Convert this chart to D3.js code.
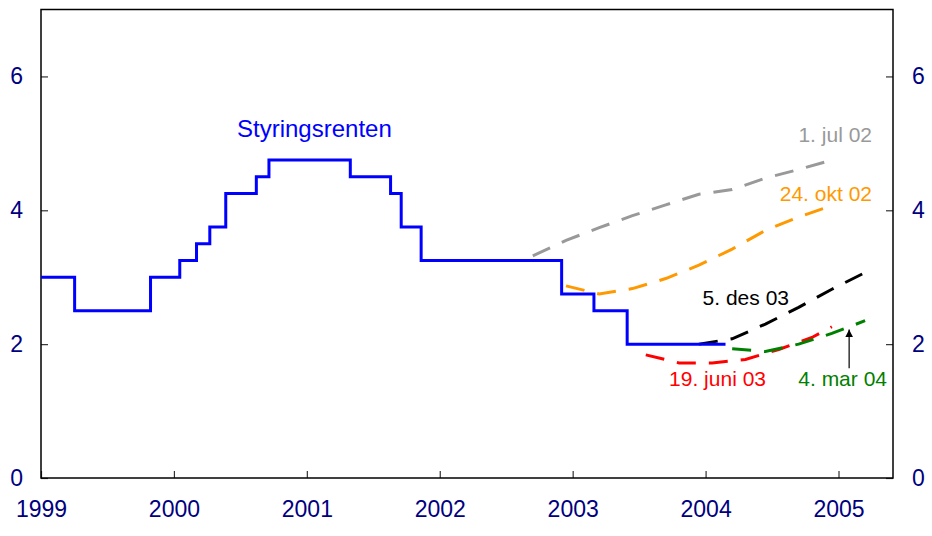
<!DOCTYPE html>
<meta charset="utf-8">
<style>
  body { margin: 0; background: #fff; }
  text { font-family: "Liberation Sans", Arial, sans-serif; }
</style>
<svg width="932" height="536"></svg>
<script src="https://cdn.jsdelivr.net/npm/d3@7"></script>
<script>

// policy rate (step series)
var policyDates = [1999.0, 1999.253, 1999.824, 2000.044, 2000.17, 2000.27, 2000.39, 2000.62, 2000.715,
                   2001.327, 2001.63, 2001.71, 2001.86, 2002.917, 2003.16, 2003.41, 2004.15]
var policyRates = [3.0, 2.5, 3.0, 3.25, 3.5, 3.75, 4.25, 4.5, 4.75,
                   4.5, 4.25, 3.75, 3.25, 2.75, 2.5, 2.0, 2.0]

// forecast paths
var jul02Dates = [2002.70, 2002.95, 2003.2, 2003.45, 2003.7, 2003.95, 2004.2, 2004.45, 2004.7, 2004.95]
var jul02Values = [3.32, 3.55, 3.74, 3.92, 4.08, 4.24, 4.31, 4.48, 4.61, 4.75]

var okt02Dates = [2002.95, 2003.2, 2003.45, 2003.7, 2003.95, 2004.2, 2004.45, 2004.7, 2004.95]
var okt02Values = [2.87, 2.75, 2.83, 2.98, 3.18, 3.42, 3.70, 3.90, 4.07]

var jun03Dates = [2003.55, 2003.8, 2004.05, 2004.3, 2004.55, 2004.8, 2004.95]
var jun03Values = [1.84, 1.72, 1.72, 1.77, 1.92, 2.10, 2.26]

var des03Dates = [2003.95, 2004.2, 2004.45, 2004.7, 2004.95, 2005.2]
var des03Values = [2.0, 2.08, 2.30, 2.55, 2.82, 3.07]

var mar04Dates = [2004.2, 2004.45, 2004.7, 2004.95, 2005.2]
var mar04Values = [1.93, 1.89, 2.0, 2.16, 2.35]

var yearTicks = [1999, 2000, 2001, 2002, 2003, 2004, 2005]
var rateTicks = [0, 2, 4, 6]

// plot box (don't use "top" as a global name, it's window.top)
var plotLeft = 41, plotRight = 893, plotTop = 9.5, plotBottom = 478

var svg = d3.select('svg')

var x = d3.scaleLinear().domain([1999, 2005.41]).range([plotLeft, plotRight])
var y = d3.scaleLinear().domain([0, 7]).range([plotBottom, plotTop])

function zip(dates, values) {
  return dates.map(function (d, i) { return [d, values[i]] })
}

var line = d3.line()
  .x(function (d) { return x(d[0]) })
  .y(function (d) { return y(d[1]) })

var stepLine = d3.line()
  .x(function (d) { return x(d[0]) })
  .y(function (d) { return y(d[1]) })
  .curve(d3.curveStepAfter)

// axes
var tickColor = '#333'
var labelColor = '#000080'

function styleAxis(g) {
  g.select('.domain').remove()
  g.selectAll('.tick line').attr('stroke', tickColor).attr('stroke-width', 1.2)
  g.selectAll('.tick text').attr('fill', labelColor).attr('font-size', 23)
    .attr('font-family', '"Liberation Sans", Arial, sans-serif')
}

svg.append('g')
  .attr('transform', 'translate(0,' + plotBottom + ')')
  .call(d3.axisBottom(x).tickValues(yearTicks).tickFormat(d3.format('d'))
    .tickSizeInner(-7).tickSizeOuter(0).tickPadding(23))
  .call(styleAxis)

svg.append('g')
  .attr('transform', 'translate(' + plotLeft + ',0)')
  .call(d3.axisLeft(y).tickValues(rateTicks).tickFormat(d3.format('d'))
    .tickSizeInner(-7).tickSizeOuter(0).tickPadding(18))
  .call(styleAxis)

svg.append('g')
  .attr('transform', 'translate(' + plotRight + ',0)')
  .call(d3.axisRight(y).tickValues(rateTicks).tickFormat(d3.format('d'))
    .tickSizeInner(-7).tickSizeOuter(0).tickPadding(19))
  .call(styleAxis)

// frame
svg.append('rect')
  .attr('x', plotLeft).attr('y', plotTop)
  .attr('width', plotRight - plotLeft).attr('height', plotBottom - plotTop)
  .attr('fill', 'none').attr('stroke', '#000').attr('stroke-width', 1.5)

// forecast lines
var forecasts = [
  { data: zip(jul02Dates, jul02Values), color: '#999999' },
  { data: zip(okt02Dates, okt02Values), color: '#FF9900' },
  { data: zip(jun03Dates, jun03Values), color: '#FF0000' },
  { data: zip(des03Dates, des03Values), color: '#000000' },
  { data: zip(mar04Dates, mar04Values), color: '#008000' }
]

svg.append('g').selectAll('path')
  .data(forecasts)
  .enter().append('path')
    .attr('d', function (f) { return line(f.data) })
    .attr('fill', 'none')
    .attr('stroke', function (f) { return f.color })
    .attr('stroke-width', 3)
    .attr('stroke-dasharray', '19,13')

// policy rate
svg.append('path')
  .attr('d', stepLine(zip(policyDates, policyRates)))
  .attr('fill', 'none')
  .attr('stroke', '#0000FF')
  .attr('stroke-width', 3)

// arrow to the mar 04 path
svg.append('defs').append('marker')
  .attr('id', 'arrow')
  .attr('viewBox', '0 0 10 10')
  .attr('refX', 10).attr('refY', 5)
  .attr('markerWidth', 8).attr('markerHeight', 8)
  .attr('markerUnits', 'userSpaceOnUse')
  .attr('orient', 'auto')
  .append('path').attr('d', 'M0,0L10,5L0,10Z').attr('fill', '#000')

svg.append('line')
  .attr('x1', x(2005.08)).attr('x2', x(2005.08))
  .attr('y1', y(1.64)).attr('y2', y(2.22))
  .attr('stroke', '#000').attr('stroke-width', 1.2)
  .attr('marker-end', 'url(#arrow)')

// labels
var labels = [
  { text: 'Styringsrenten', color: '#0000FF', px: 237, py: 137, anchor: 'start', size: 24 },
  { text: '1. jul 02', color: '#999999', px: 872, py: 142, anchor: 'end', size: 21 },
  { text: '24. okt 02', color: '#FF9900', px: 872, py: 201, anchor: 'end', size: 21 },
  { text: '5. des 03', color: '#000000', px: 789, py: 305, anchor: 'end', size: 21 },
  { text: '19. juni 03', color: '#FF0000', px: 766, py: 386, anchor: 'end', size: 21 },
  { text: '4. mar 04', color: '#008000', px: 887, py: 386, anchor: 'end', size: 21 }
]

svg.append('g').selectAll('text')
  .data(labels)
  .enter().append('text')
    .attr('x', function (d) { return d.px })
    .attr('y', function (d) { return d.py })
    .attr('text-anchor', function (d) { return d.anchor })
    .attr('fill', function (d) { return d.color })
    .attr('font-size', function (d) { return d.size })
    .text(function (d) { return d.text })
</script>
